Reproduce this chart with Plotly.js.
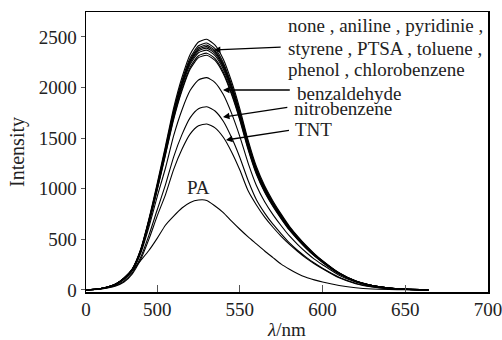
<!DOCTYPE html>
<html>
<head>
<meta charset="utf-8">
<script src="https://cdn.plot.ly/plotly-3.0.1.min.js"></script>
<style>html,body{margin:0;padding:0;background:#fff;}#chart{width:502px;height:340px;}</style>
</head>
<body>
<div id="chart"></div>
<script>
// wavelength (nm)
const wavelength = [457,465,470,475,480,485,490,495,500,505,510,515,520,525,530,535,540,545,550,555,560,565,570,575,580,585,590,595,600,610,620,630,640,650,664];

// group: none, aniline, pyridinie, styrene, PTSA, toluene, phenol, chlorobenzene
const none          = [0,12,30,60,120,210,400,700,1050,1420,1800,2100,2330,2450,2477,2420,2280,2060,1790,1480,1220,1030,880,750,630,530,440,360,290,170,90,45,20,8,0];
const aniline       = [0,12,30,60,118,207,394,690,1034,1399,1773,2069,2295,2413,2440,2384,2246,2029,1763,1458,1202,1015,867,739,621,522,433,355,286,167,89,44,20,8,0];
const pyridinie     = [0,11,29,59,117,205,391,684,1026,1387,1759,2052,2276,2394,2420,2364,2228,2013,1749,1446,1192,1006,860,733,616,518,430,352,283,166,88,44,20,8,0];
const styrene       = [0,12,29,58,117,204,388,680,1020,1379,1748,2039,2262,2379,2405,2350,2214,2000,1738,1437,1185,1000,854,728,612,515,427,350,282,165,87,44,19,8,0];
const PTSA          = [0,11,29,58,116,203,386,676,1013,1370,1737,2027,2248,2364,2390,2335,2200,1988,1727,1428,1177,994,849,724,608,511,425,347,280,164,87,43,19,8,0];
const toluene       = [0,11,29,57,115,201,383,670,1005,1359,1723,2010,2230,2345,2370,2316,2182,1971,1713,1416,1168,986,842,718,603,507,421,345,278,163,86,43,19,8,0];
const phenol        = [0,11,28,57,113,198,378,662,992,1342,1701,1985,2202,2315,2340,2287,2155,1947,1692,1399,1153,973,832,709,595,501,416,340,274,161,85,43,19,8,0];
const chlorobenzene = [0,11,28,56,112,197,375,656,984,1331,1687,1968,2183,2296,2320,2268,2136,1930,1677,1387,1143,965,825,703,590,497,412,337,272,159,84,42,19,7,0];

const benzaldehyde  = [0,10,25,51,102,190,360,620,920,1203,1525,1779,1973,2075,2098,2050,1931,1745,1516,1254,1033,872,745,635,534,449,373,305,250,146,78,38,17,7,0];
const nitrobenzene  = [0,9,22,44,88,170,320,540,790,1038,1316,1535,1703,1791,1811,1769,1667,1506,1309,1082,892,760,650,555,465,390,325,266,215,126,67,33,15,6,0];
const TNT           = [0,8,20,40,79,160,300,500,730,940,1192,1390,1542,1622,1640,1602,1509,1364,1185,980,840,720,620,530,450,380,315,260,210,120,62,30,13,5,0];
const PA            = [0,10,25,55,110,190,290,390,510,640,730,810,865,889,885,830,765,680,600,525,455,385,320,255,205,160,125,100,78,45,22,10,5,2,0];

const seriesNames = ['none','aniline','pyridinie','styrene','PTSA','toluene','phenol','chlorobenzene','benzaldehyde','nitrobenzene','TNT','PA'];
const seriesData = [none,aniline,pyridinie,styrene,PTSA,toluene,phenol,chlorobenzene,benzaldehyde,nitrobenzene,TNT,PA];

const xTickVals = [457,500,550,600,650,700];
const xTickText = ['0','500','550','600','650','700'];
const yTickVals = [0,500,1000,1500,2000,2500];

const traces = seriesData.map((d,i)=>({
  x: wavelength, y: d, name: seriesNames[i], type:'scatter', mode:'lines',
  line:{color:'#000', width:1.1, shape:'spline', smoothing:0.6},
  showlegend:false, hoverinfo:'skip'
}));

const F = '"Liberation Serif", "Times New Roman", serif';
const annFont = {family:F, size:19, color:'#222'};
const annotations = [
  {x:577.8, y:2609, text:'none , aniline , pyridinie ,', showarrow:false, xanchor:'left', yanchor:'middle', font:annFont},
  {x:577.8, y:2391, text:'styrene , PTSA , toluene ,', showarrow:false, xanchor:'left', yanchor:'middle', font:annFont},
  {x:577.8, y:2174, text:'phenol , chlorobenzene', showarrow:false, xanchor:'left', yanchor:'middle', font:annFont},
  {x:583.3, y:1940, text:'benzaldehyde', showarrow:false, xanchor:'left', yanchor:'middle', font:annFont},
  {x:581.5, y:1790, text:'nitrobenzene', showarrow:false, xanchor:'left', yanchor:'middle', font:annFont},
  {x:582.1, y:1581, text:'TNT', showarrow:false, xanchor:'left', yanchor:'middle', font:annFont},
  {x:525.3, y:1008, text:'PA', showarrow:false, xanchor:'center', yanchor:'middle', font:annFont},
  // arrows
  {x:534.3, y:2372, ax:576.5, ay:2401, axref:'x', ayref:'y', text:' ', showarrow:true, arrowhead:2, arrowsize:1, arrowwidth:1.3, arrowcolor:'#000', standoff:0, startstandoff:0},
  {x:539.8, y:1976, ax:582.0, ay:1976, axref:'x', ayref:'y', text:' ', showarrow:true, arrowhead:2, arrowsize:1, arrowwidth:1.3, arrowcolor:'#000', standoff:0, startstandoff:0},
  {x:539.8, y:1709, ax:580.5, ay:1808, axref:'x', ayref:'y', text:' ', showarrow:true, arrowhead:2, arrowsize:1, arrowwidth:1.3, arrowcolor:'#000', standoff:0, startstandoff:0},
  {x:541.6, y:1482, ax:581.5, ay:1581, axref:'x', ayref:'y', text:' ', showarrow:true, arrowhead:2, arrowsize:1, arrowwidth:1.3, arrowcolor:'#000', standoff:0, startstandoff:0}
];

const layout = {
  width:502, height:340,
  margin:{l:86, r:14, t:12, b:48},
  paper_bgcolor:'#fff', plot_bgcolor:'#fff',
  font:{family:F, color:'#222'},
  xaxis:{
    range:[457,700], tickvals:xTickVals, ticktext:xTickText,
    ticks:'inside', ticklen:7, tickcolor:'#555', tickwidth:1,
    ticklabeloverflow:'allow',
    showline:true, linecolor:'#000', linewidth:1.5, mirror:true,
    showgrid:false, zeroline:false,
    tickfont:{family:F, size:19, color:'#222'},
    title:{text:'<i>λ</i>/nm', font:{family:F, size:19, color:'#222'}, standoff:4}
  },
  yaxis:{
    range:[-20,2747], tickvals:yTickVals,
    ticks:'outside', ticklen:4, tickcolor:'#555', tickwidth:1,
    showline:true, linecolor:'#000', linewidth:1.5, mirror:true,
    showgrid:false, zeroline:false,
    tickfont:{family:F, size:19, color:'#222'},
    title:{text:'Intensity', font:{family:F, size:20, color:'#222'}, standoff:8}
  },
  annotations: annotations
};

Plotly.newPlot('chart', traces, layout, {staticPlot:true, displayModeBar:false});
</script>
</body>
</html>
